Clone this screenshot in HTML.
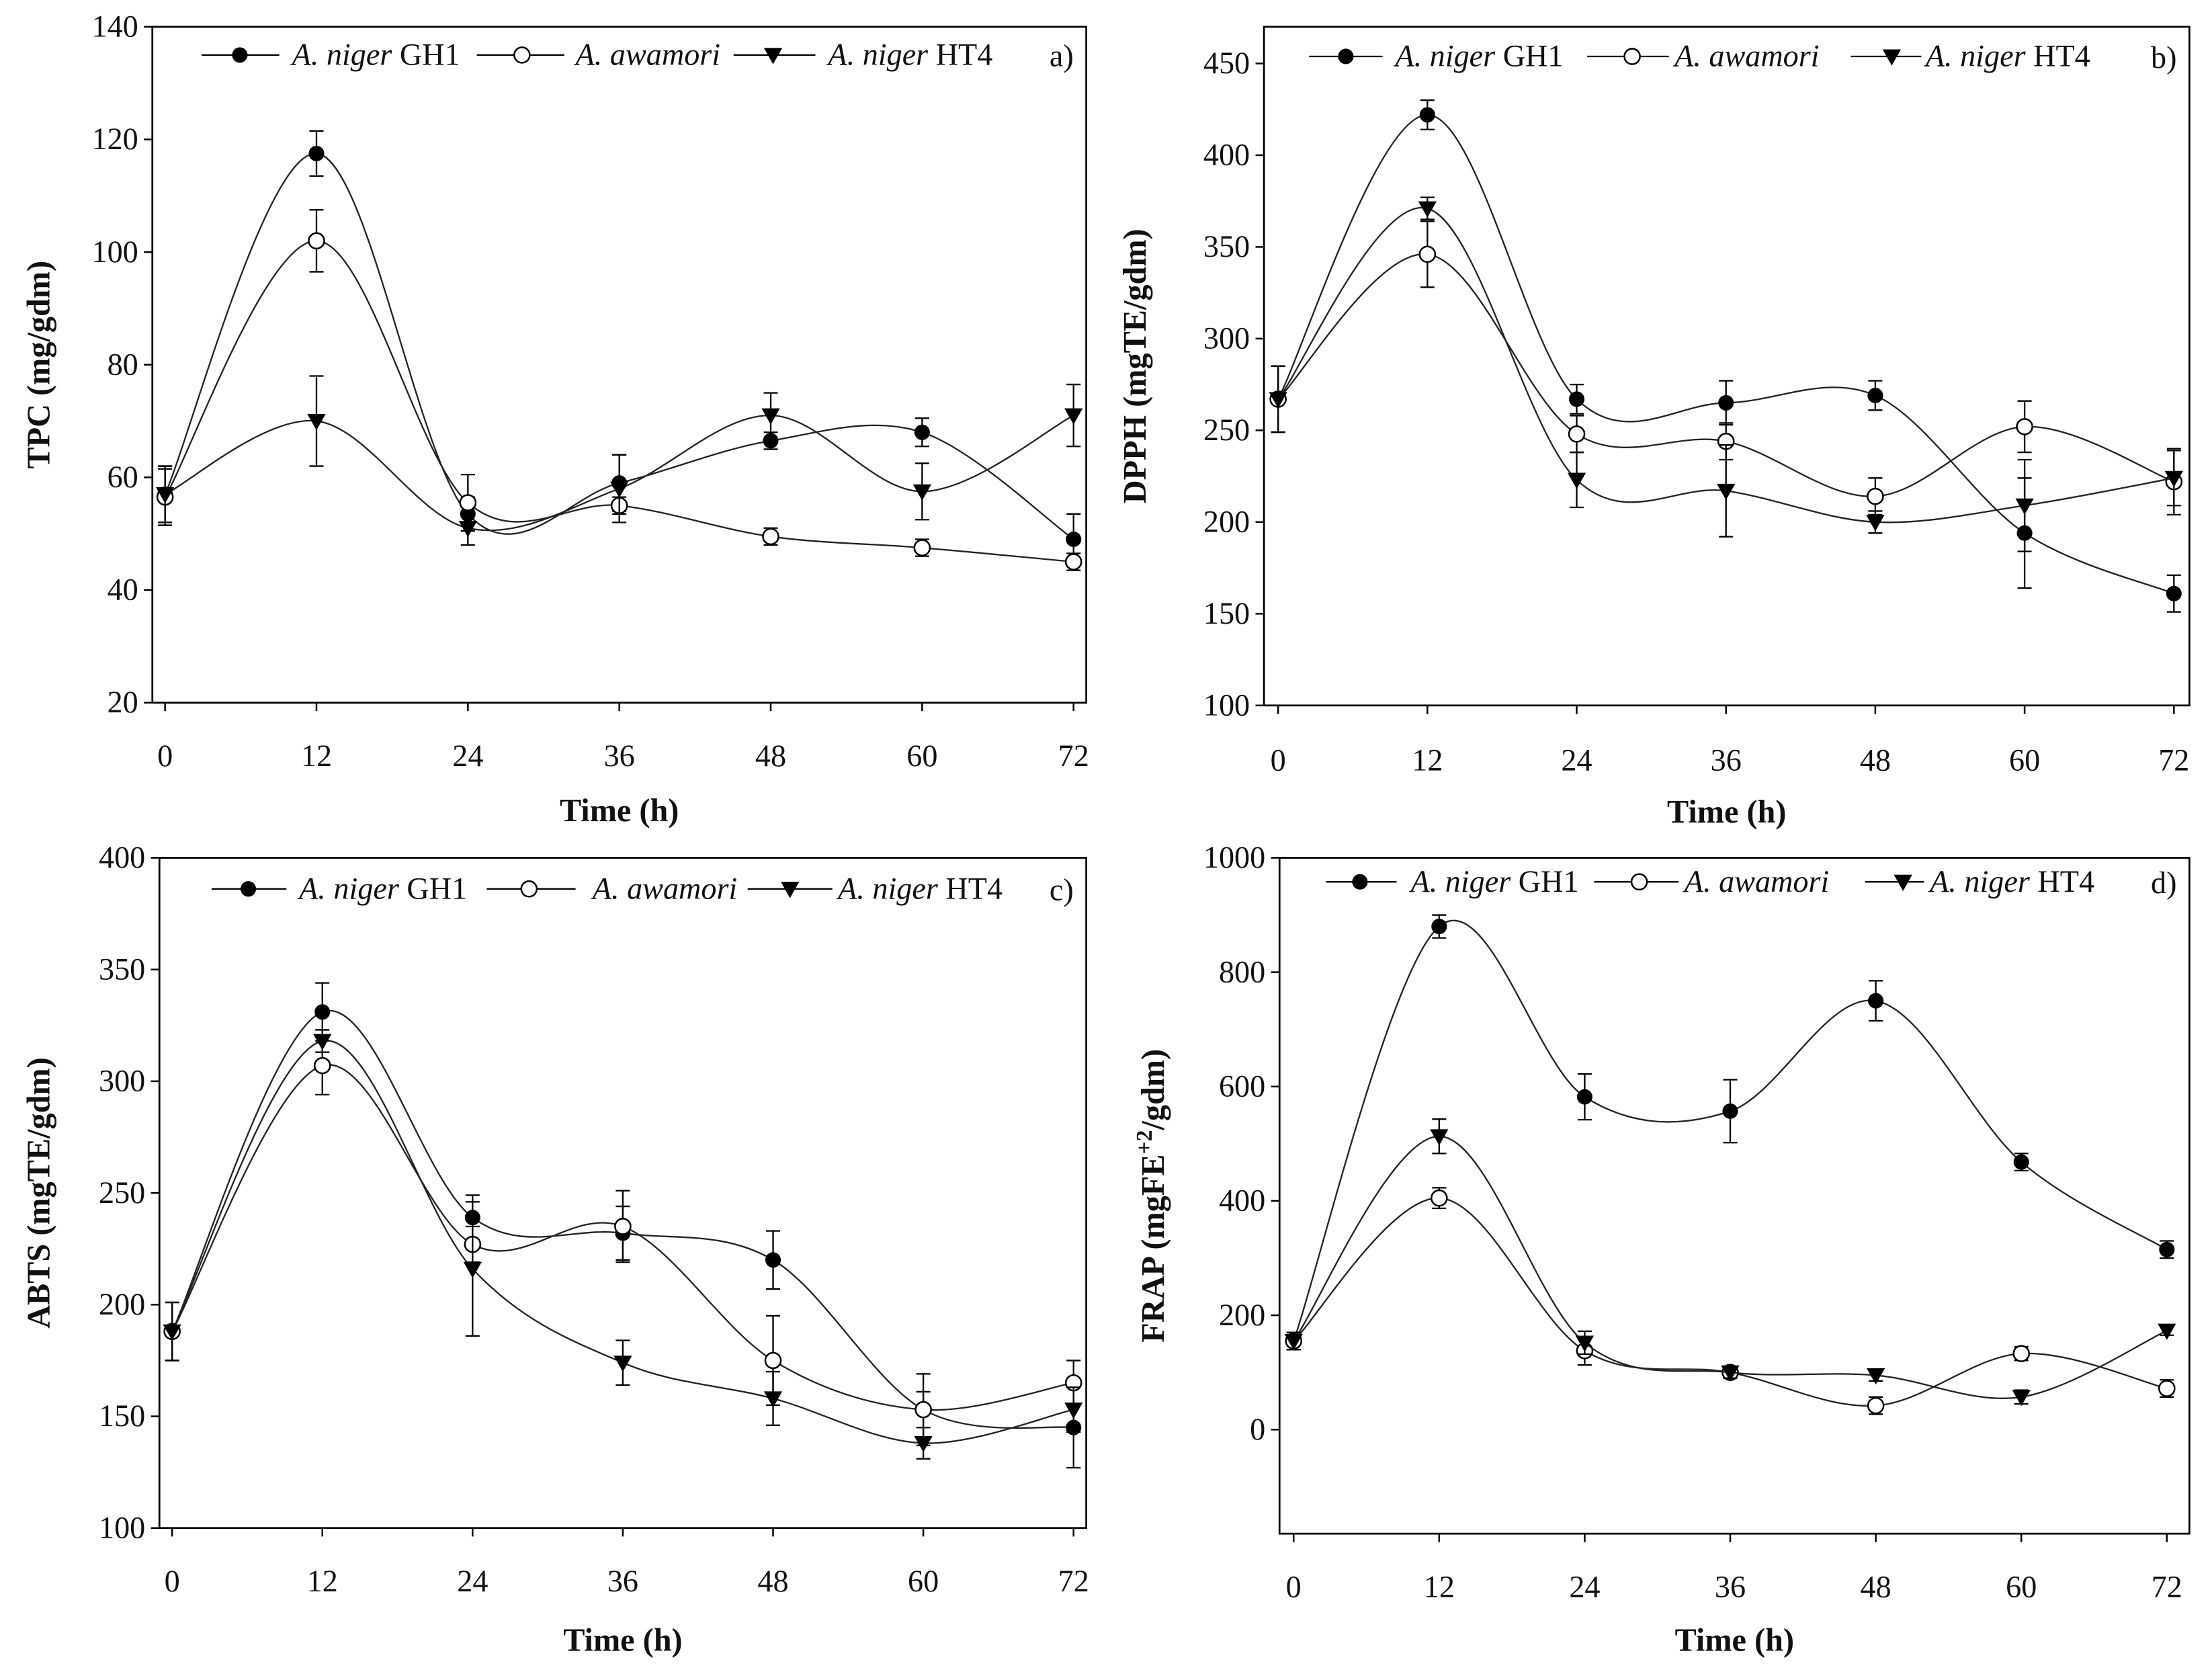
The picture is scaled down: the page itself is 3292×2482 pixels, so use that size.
<!DOCTYPE html>
<html><head><meta charset="utf-8"><style>
html,body{margin:0;padding:0;background:#fff}
svg{display:block}
text{font-family:"Liberation Serif",serif;fill:#111}
</style></head><body>
<svg id="fig" width="3292" height="2482" viewBox="0 0 1568 1182.2" xmlns="http://www.w3.org/2000/svg"></svg>
<script>
const times=[0,12,24,36,48,60,72];
const xTicks=[0,12,24,36,48,60,72];
// panel a TPC
const aGH1=[57,117.5,53.5,59,66.5,68,49], aGH1Err=[5,4,3,5,1.5,2.5,4.5];
const aAwa=[56.5,102,55.5,55,49.5,47.5,45], aAwaErr=[5,5.5,5,1.5,1.5,1.5,1.5];
const aHT4=[57,70,51,58,71,57.5,71], aHT4Err=[5,8,3,6,4,5,5.5];
const aTicks=[20,40,60,80,100,120,140];
// panel b DPPH
const bGH1=[267,422,267,265,269,194,161], bGH1Err=[18,8,8,12,8,30,10];
const bAwa=[267,346,248,244,214,252,222], bAwaErr=[18,18,10,10,10,14,18];
const bHT4=[267,371,223,217,200,209,224], bHT4Err=[18,6,15,25,6,25,15];
const bTicks=[100,150,200,250,300,350,400,450];
// panel c ABTS
const cGH1=[188,331,239,232,220,153,145], cGH1Err=[13,13,10,12,13,16,18];
const cAwa=[188,307,227,235,175,153,165], cAwaErr=[13,13,8,16,20,8,10];
const cHT4=[188,318,216,174,158,138,153], cHT4Err=[13,5,30,10,12,7,10];
const cTicks=[100,150,200,250,300,350,400];
// panel d FRAP
const dGH1=[155,880,582,557,750,468,315], dGH1Err=[15,20,40,55,35,15,15];
const dAwa=[155,405,138,100,42,133,72], dAwaErr=[15,18,25,10,15,12,15];
const dHT4=[155,513,152,100,95,57,173], dHT4Err=[15,30,20,10,10,12,8];
const dTicks=[0,200,400,600,800,1000];

const NS="http://www.w3.org/2000/svg";
const svg=document.getElementById('fig');
function mk(tag,attrs,parent){const e=document.createElementNS(NS,tag);for(const k in attrs)e.setAttribute(k,attrs[k]);(parent||svg).appendChild(e);return e;}

function spline(pts){
  let d=`M${pts[0][0]},${pts[0][1]}`;
  for(let i=0;i<pts.length-1;i++){
    const p0=pts[Math.max(0,i-1)],p1=pts[i],p2=pts[i+1],p3=pts[Math.min(pts.length-1,i+2)];
    const c1=[p1[0]+(p2[0]-p0[0])/6,p1[1]+(p2[1]-p0[1])/6];
    const c2=[p2[0]-(p3[0]-p1[0])/6,p2[1]-(p3[1]-p1[1])/6];
    d+=` C${c1[0]},${c1[1]} ${c2[0]},${c2[1]} ${p2[0]},${p2[1]}`;
  }
  return d;
}
function marker(g,type,x,y){
  let m;
  if(type==='fill'){m=mk('circle',{cx:x,cy:y,r:5.5,fill:'#000'},g);}
  else if(type==='open'){m=mk('circle',{cx:x,cy:y,r:5.5,fill:'#fff',stroke:'#000','stroke-width':1.2},g);}
  else {m=mk('polygon',{points:`${x-6.5},${y-5} ${x+6.5},${y-5} ${x},${y+6.5}`,fill:'#000'},g);}
  return m;
}

function panel(cfg){
  const g=mk('g',{});
  
  
  const X=t=>cfg.x0+(t-0)/72*(cfg.x72-cfg.x0);
  const Y=v=>cfg.yb-(v-cfg.ymin)/(cfg.ymax-cfg.ymin)*(cfg.yb-cfg.yt);
  const fr=mk('rect',{x:cfg.fl,y:cfg.ft,width:cfg.fr-cfg.fl,height:cfg.fb-cfg.ft,fill:'none',stroke:'#000','stroke-width':1.3},g);
  
  cfg.ticks.forEach(v=>{
    const y=Y(v);
    mk('line',{x1:cfg.fl-6,x2:cfg.fl,y1:y,y2:y,stroke:'#000','stroke-width':1.2},g);
    const t=mk('text',{x:cfg.fl-10,y:y+7,'text-anchor':'end','font-size':22},g);
    t.textContent=v;
    
  });
  xTicks.forEach(v=>{
    const x=X(v);
    mk('line',{x1:x,x2:x,y1:cfg.fb,y2:cfg.fb+6,stroke:'#000','stroke-width':1.2},g);
    const t=mk('text',{x:x,y:cfg.xl,'text-anchor':'middle','font-size':22},g);
    t.textContent=v;
    
  });
  const xt=mk('text',{x:(cfg.fl+cfg.fr)/2,y:cfg.xt,'text-anchor':'middle','font-size':23,'font-weight':'bold'},g);
  xt.textContent='Time (h)';
  
  const yt=mk('text',{x:0,y:0,'text-anchor':'middle','font-size':23,'font-weight':'bold',transform:`translate(${cfg.ylx},${(cfg.ft+cfg.fb)/2}) rotate(-90)`},g);
  yt.innerHTML=cfg.ylabel;
  
  cfg.series.forEach(s=>{
    const pts=times.map((t,i)=>[X(t),Y(s.v[i])]);
    const p=mk('path',{d:spline(pts),fill:'none',stroke:'#222','stroke-width':1.1},g);
    
    times.forEach((t,i)=>{
      const x=X(t),y1=Y(s.v[i]+s.e[i]),y2=Y(s.v[i]-s.e[i]);
      const eb=mk('path',{d:`M${x},${y1}V${y2}M${x-5},${y1}H${x+5}M${x-5},${y2}H${x+5}`,stroke:'#000','stroke-width':1.1,fill:'none'},g);
      
      const m=marker(g,s.type,x,Y(s.v[i]));
      
    });
  });
  const names=['<tspan font-style="italic">A. niger</tspan> GH1','<tspan font-style="italic">A. awamori</tspan>','<tspan font-style="italic">A. niger</tspan> HT4'];
  const types=['fill','open','tri'];
  cfg.leg.forEach((L,i)=>{
    const lg=mk('g',{},g);
    
    mk('line',{x1:L[0],x2:L[2],y1:cfg.ly,y2:cfg.ly,stroke:'#000','stroke-width':1.1},lg);
    marker(lg,types[i],L[1],cfg.ly);
    const t=mk('text',{x:L[3],y:cfg.ly+7,'font-size':22},lg);
    t.innerHTML=names[i];
  });
  const pl=mk('text',{x:cfg.fr-9,y:cfg.ly+8,'text-anchor':'end','font-size':22},g);
  pl.textContent=cfg.plabel;
  
}

panel({name:'panel-a-tpc',fl:108,fr:770,ft:19,fb:498,x0:117,x72:761,ymin:20,ymax:140,yb:498,yt:19,ticks:aTicks,xl:543,xt:582,ylx:35,
  ylabel:'TPC (mg/gdm)',ly:39,plabel:'a)',leg:[[143,170,198,207],[338,370,400,408],[520,548,578,587]],
  series:[{v:aGH1,e:aGH1Err,type:'fill'},{v:aAwa,e:aAwaErr,type:'open'},{v:aHT4,e:aHT4Err,type:'tri'}]});
panel({name:'panel-b-dpph',fl:896,fr:1552,ft:19,fb:500,x0:906,x72:1541,ymin:100,ymax:450,yb:500,yt:45,ticks:bTicks,xl:546,xt:583,ylx:812,
  ylabel:'DPPH (mgTE/gdm)',ly:40,plabel:'b)',leg:[[928,954,980,989],[1125,1157,1183,1187],[1312,1341,1362,1365]],
  series:[{v:bGH1,e:bGH1Err,type:'fill'},{v:bAwa,e:bAwaErr,type:'open'},{v:bHT4,e:bHT4Err,type:'tri'}]});
panel({name:'panel-c-abts',fl:113,fr:770,ft:608,fb:1083,x0:122,x72:761,ymin:100,ymax:400,yb:1083,yt:608,ticks:cTicks,xl:1128,xt:1170,ylx:35,
  ylabel:'ABTS (mgTE/gdm)',ly:630,plabel:'c)',leg:[[150,176,203,212],[345,375,408,420],[530,560,590,594]],
  series:[{v:cGH1,e:cGH1Err,type:'fill'},{v:cAwa,e:cAwaErr,type:'open'},{v:cHT4,e:cHT4Err,type:'tri'}]});
panel({name:'panel-d-frap',fl:907,fr:1552,ft:608,fb:1087,x0:917,x72:1536,ymin:-182,ymax:1000,yb:1087,yt:608,ticks:dTicks,xl:1132,xt:1170,ylx:825,
  ylabel:'FRAP (mgFE<tspan baseline-shift="super" font-size="16">+2</tspan>/gdm)',ly:625,plabel:'d)',leg:[[940,964,990,1000],[1130,1162,1190,1194],[1322,1349,1364,1368]],
  series:[{v:dGH1,e:dGH1Err,type:'fill'},{v:dAwa,e:dAwaErr,type:'open'},{v:dHT4,e:dHT4Err,type:'tri'}]});
</script>
</body></html>
